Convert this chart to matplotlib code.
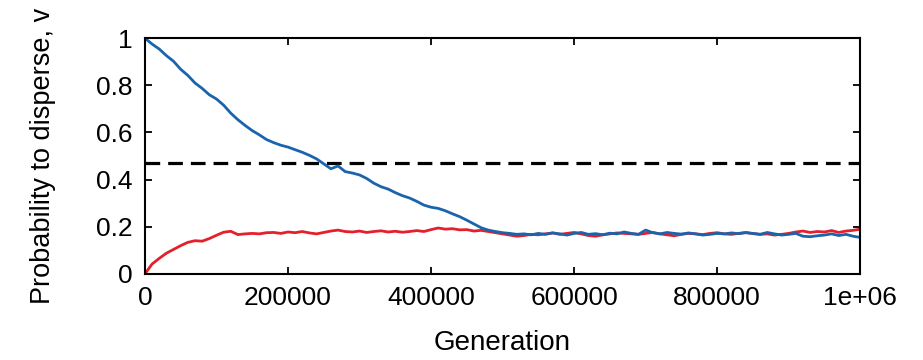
import matplotlib
matplotlib.use("Agg")
import matplotlib.pyplot as plt
import numpy as np

plt.rcParams['font.family'] = ['Liberation Sans', 'DejaVu Sans']

step = 10000
blue = [1.000, 0.975, 0.954, 0.926, 0.902, 0.868, 0.842, 0.810, 0.787, 0.760,
        0.742, 0.716, 0.682, 0.654, 0.630, 0.608, 0.590, 0.570, 0.557, 0.546,
        0.538, 0.527, 0.516, 0.503, 0.488, 0.467, 0.446, 0.458, 0.434, 0.428,
        0.420, 0.405, 0.385, 0.370, 0.360, 0.345, 0.332, 0.322, 0.308, 0.292,
        0.283, 0.278, 0.268, 0.255, 0.243, 0.228, 0.212, 0.196, 0.186, 0.180,
        0.175, 0.172, 0.168, 0.170, 0.166, 0.172, 0.168, 0.174, 0.170, 0.165,
        0.172, 0.176, 0.168, 0.171, 0.166, 0.173, 0.170, 0.178, 0.172, 0.168,
        0.186, 0.175, 0.170, 0.176, 0.172, 0.169, 0.174, 0.170, 0.165, 0.168,
        0.172, 0.170, 0.174, 0.171, 0.175, 0.172, 0.168, 0.176, 0.170, 0.165,
        0.168, 0.172, 0.160, 0.158, 0.162, 0.165, 0.170, 0.163, 0.168, 0.160,
        0.155]
red = [0.000, 0.042, 0.066, 0.088, 0.104, 0.120, 0.134, 0.141, 0.139, 0.150,
       0.164, 0.177, 0.181, 0.167, 0.170, 0.172, 0.170, 0.175, 0.176, 0.172,
       0.178, 0.175, 0.180, 0.174, 0.170, 0.176, 0.182, 0.186, 0.180, 0.178,
       0.182, 0.176, 0.180, 0.183, 0.178, 0.181, 0.177, 0.180, 0.184, 0.180,
       0.188, 0.195, 0.190, 0.192, 0.187, 0.188, 0.182, 0.185, 0.180, 0.175,
       0.170, 0.165, 0.160, 0.163, 0.168, 0.166, 0.170, 0.174, 0.168, 0.172,
       0.176, 0.170, 0.163, 0.160, 0.166, 0.170, 0.174, 0.172, 0.170, 0.168,
       0.172, 0.176, 0.170, 0.166, 0.162, 0.168, 0.172, 0.170, 0.167, 0.172,
       0.175, 0.170, 0.168, 0.172, 0.176, 0.171, 0.168, 0.170, 0.165, 0.168,
       0.172, 0.178, 0.182, 0.176, 0.180, 0.178, 0.184, 0.176, 0.182, 0.185,
       0.190]
threshold = 0.47
xticks = [0, 200000, 400000, 600000, 800000, 1000000]
xticklabels = ['0', '200000', '400000', '600000', '800000', '1e+06']
yticks = [0, 0.2, 0.4, 0.6, 0.8, 1]
yticklabels = ['0', '0.2', '0.4', '0.6', '0.8', '1']

gen = np.arange(len(blue)) * step

fig = plt.figure(figsize=(9.23, 3.6), dpi=100)
ax = fig.add_axes([0.157, 0.239, 0.775, 0.655])

ax.axhline(threshold, color='black', lw=2.3, dashes=(4.6, 2.5))
ax.plot(gen, red, color='#e3202b', lw=2.0)
ax.plot(gen, blue, color='#1a64ad', lw=2.0)

ax.set_xlim(0, 1000000)
ax.set_ylim(0, 1)
ax.set_xticks(xticks)
ax.set_xticklabels(xticklabels)
ax.set_yticks(yticks)
ax.set_yticklabels(yticklabels)
ax.tick_params(direction='in', length=5, width=1.3, top=True, right=True,
               labelsize=19, pad=9)
for s in ax.spines.values():
    s.set_linewidth(1.5)

ax.set_xlabel('Generation', fontsize=20, labelpad=14)
ax.set_ylabel('Probability to disperse, v', fontsize=19.5, labelpad=29)

fig.savefig('out.png', dpi=100)
